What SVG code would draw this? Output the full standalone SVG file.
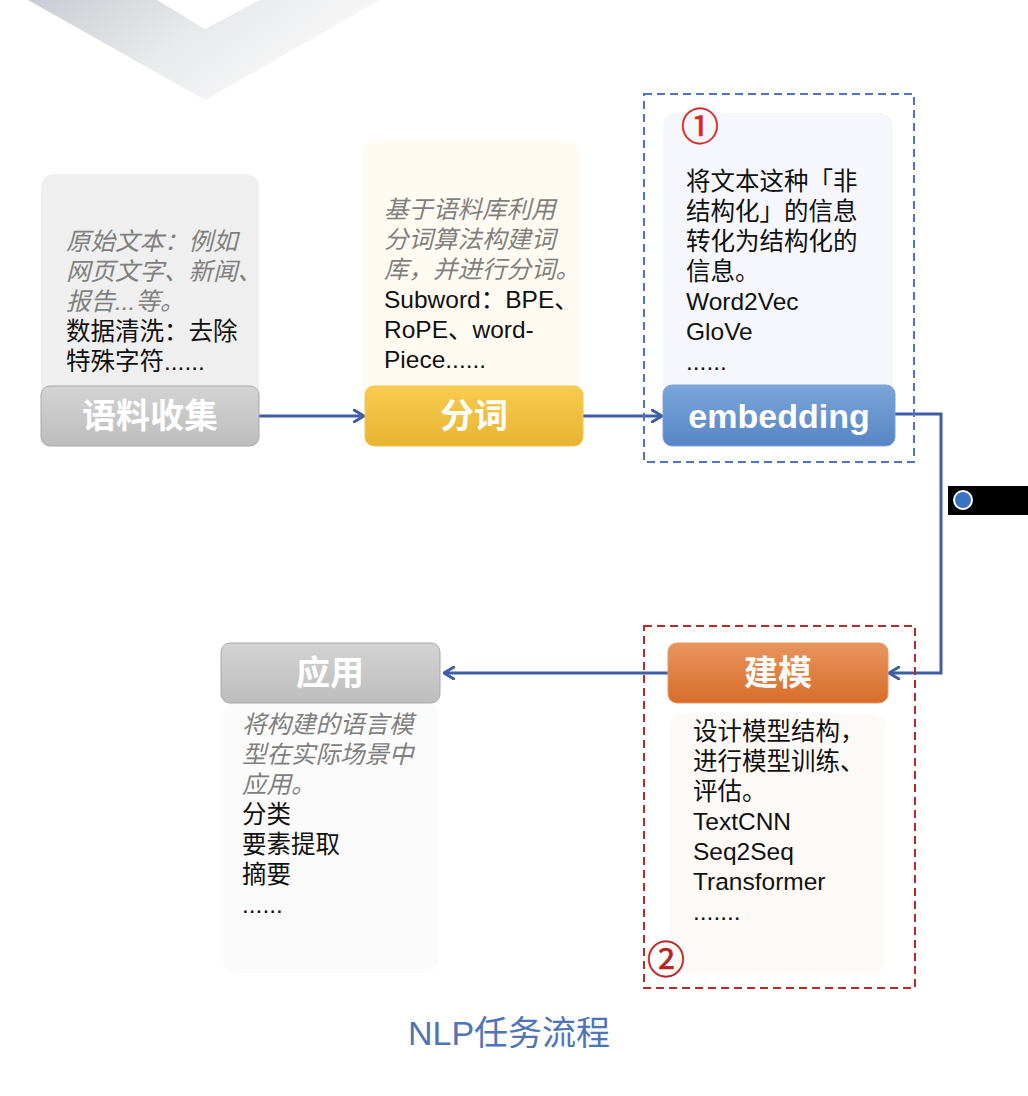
<svg xmlns="http://www.w3.org/2000/svg" width="1028" height="1096" viewBox="0 0 1028 1096">
  <style>
    .body { font-family: "Liberation Sans", "Noto Sans CJK SC", sans-serif; font-size: 24.5px; fill: #111; }
    .note { font-style: italic; fill: #7f7f7f; }
    .head { font-family: "Liberation Sans", "Noto Sans CJK SC", sans-serif; font-size: 34px; font-weight: bold; fill: #fff; text-anchor: middle; }
    .link { fill: none; stroke: #3f5ea5; stroke-width: 3; }
    .num { font-family: "Noto Sans CJK SC", sans-serif; font-size: 38px; text-anchor: middle; stroke-width: 0.6; }
  </style>
  <defs>
    <linearGradient id="chevron" x1="0" y1="0" x2="1" y2="0.4">
      <stop offset="0" stop-color="#c9ccd2"/>
      <stop offset="0.5" stop-color="#e8e9eb"/>
      <stop offset="1" stop-color="#fbfbfb"/>
    </linearGradient>
    <linearGradient id="gGray" x1="0" y1="0" x2="0" y2="1">
      <stop offset="0" stop-color="#d3d3d3"/>
      <stop offset="1" stop-color="#bdbdbd"/>
    </linearGradient>
    <linearGradient id="gYellow" x1="0" y1="0" x2="0" y2="1">
      <stop offset="0" stop-color="#f8cb4f"/>
      <stop offset="1" stop-color="#e6b531"/>
    </linearGradient>
    <linearGradient id="gBlue" x1="0" y1="0" x2="0" y2="1">
      <stop offset="0" stop-color="#7aa6d8"/>
      <stop offset="1" stop-color="#5685c4"/>
    </linearGradient>
    <linearGradient id="gOrange" x1="0" y1="0" x2="0" y2="1">
      <stop offset="0" stop-color="#e8955e"/>
      <stop offset="1" stop-color="#d86c2b"/>
    </linearGradient>
    <marker id="arrow" viewBox="0 0 12 14" refX="11" refY="7" markerWidth="12" markerHeight="14" markerUnits="userSpaceOnUse" orient="auto">
      <path d="M1,1 L11,7 L1,13" fill="none" stroke="#3f5ea5" stroke-width="3" stroke-linecap="round" stroke-linejoin="round"/>
    </marker>
  </defs>

  <rect width="1028" height="1096" fill="#fff"/>

  <!-- decorative chevron at the top -->
  <path d="M28,0 L157,0 L205,29 L260,0 L380,0 L205,100 Z" fill="url(#chevron)"/>

  <!-- connectors -->
  <g id="connectors">
    <path class="link" d="M259,416 L364,416" marker-end="url(#arrow)"/>
    <path class="link" d="M583,416 L662,416" marker-end="url(#arrow)"/>
    <path class="link" d="M895,414 L941,414 L941,673 L889,673" marker-end="url(#arrow)"/>
    <path class="link" d="M668,673 L444,673" marker-end="url(#arrow)"/>
  </g>

  <!-- stage 1: corpus collection -->
  <g id="node-collect">
    <rect x="41" y="174" width="218" height="240" rx="13" fill="#efefef"/>
    <text class="body" x="66">
      <tspan class="note" y="250">原始文本：例如</tspan>
      <tspan class="note" x="66" y="280">网页文字、新闻、</tspan>
      <tspan class="note" x="66" y="310">报告...等。</tspan>
      <tspan x="66" y="340">数据清洗：去除</tspan>
      <tspan x="66" y="370">特殊字符......</tspan>
    </text>
    <rect x="41" y="386" width="218" height="60" rx="9" fill="url(#gGray)" stroke="#a9a9a9" stroke-width="1"/>
    <text class="head" x="150" y="428">语料收集</text>
  </g>

  <!-- stage 2: tokenization -->
  <g id="node-token">
    <rect x="362" y="140" width="218" height="255" rx="13" fill="#fffbf3"/>
    <text class="body" x="384">
      <tspan class="note" y="218">基于语料库利用</tspan>
      <tspan class="note" x="384" y="248">分词算法构建词</tspan>
      <tspan class="note" x="384" y="278">库，并进行分词。</tspan>
      <tspan x="384" y="308">Subword：BPE、</tspan>
      <tspan x="384" y="338">RoPE、word-</tspan>
      <tspan x="384" y="368">Piece......</tspan>
    </text>
    <rect x="365" y="386" width="218" height="60" rx="9" fill="url(#gYellow)" stroke="#f0c552" stroke-width="1"/>
    <text class="head" x="474" y="428">分词</text>
  </g>

  <!-- stage 3: embedding -->
  <g id="node-embedding">
    <rect x="644" y="94" width="270" height="368" fill="none" stroke="#4f74c4" stroke-width="2" stroke-dasharray="8,5"/>
    <rect x="663" y="113" width="230" height="285" rx="13" fill="#f5f7fc"/>
    <text class="num" x="700" y="140" fill="#d6281f" stroke="#d6281f">①</text>
    <text class="body" x="686">
      <tspan y="190">将文本这种「非</tspan>
      <tspan x="686" y="220">结构化」的信息</tspan>
      <tspan x="686" y="250">转化为结构化的</tspan>
      <tspan x="686" y="280">信息。</tspan>
      <tspan x="686" y="310">Word2Vec</tspan>
      <tspan x="686" y="340">GloVe</tspan>
      <tspan x="686" y="370">......</tspan>
    </text>
    <rect x="663" y="385" width="232" height="61" rx="9" fill="url(#gBlue)" stroke="#7aa2d6" stroke-width="1"/>
    <text class="head" x="779" y="428">embedding</text>
  </g>

  <!-- small legend tag -->
  <g id="tag">
    <rect x="948" y="486" width="80" height="29" fill="#000"/>
    <circle cx="963" cy="500" r="9" fill="#3a72c4" stroke="#fff" stroke-width="2"/>
  </g>

  <!-- stage 4: modeling -->
  <g id="node-model">
    <rect x="644" y="626" width="271" height="362" fill="none" stroke="#b82a26" stroke-width="2" stroke-dasharray="8,5"/>
    <rect x="670" y="714" width="215" height="259" rx="13" fill="#fcf9f6"/>
    <rect x="668" y="643" width="220" height="60" rx="9" fill="url(#gOrange)" stroke="#e49a64" stroke-width="1"/>
    <text class="head" x="778" y="685">建模</text>
    <text class="body" x="693">
      <tspan y="740">设计模型结构，</tspan>
      <tspan x="693" y="770">进行模型训练、</tspan>
      <tspan x="693" y="800">评估。</tspan>
      <tspan x="693" y="830">TextCNN</tspan>
      <tspan x="693" y="860">Seq2Seq</tspan>
      <tspan x="693" y="890">Transformer</tspan>
      <tspan x="693" y="920">.......</tspan>
    </text>
    <text class="num" x="666" y="973" fill="#b8231e" stroke="#b8231e">②</text>
  </g>

  <!-- stage 5: application -->
  <g id="node-apply">
    <rect x="223" y="700" width="215" height="273" rx="13" fill="#fbfbfb"/>
    <rect x="221" y="643" width="219" height="60" rx="9" fill="url(#gGray)" stroke="#a9a9a9" stroke-width="1"/>
    <text class="head" x="330" y="685">应用</text>
    <text class="body" x="242">
      <tspan class="note" y="733">将构建的语言模</tspan>
      <tspan class="note" x="242" y="763">型在实际场景中</tspan>
      <tspan class="note" x="242" y="793">应用。</tspan>
      <tspan x="242" y="823">分类</tspan>
      <tspan x="242" y="853">要素提取</tspan>
      <tspan x="242" y="883">摘要</tspan>
      <tspan x="242" y="913">......</tspan>
    </text>
  </g>

  <!-- caption -->
  <text x="509" y="1045" text-anchor="middle" font-family="Liberation Sans, Noto Sans CJK SC, sans-serif" font-size="34" fill="#4f74b8">NLP任务流程</text>
</svg>
